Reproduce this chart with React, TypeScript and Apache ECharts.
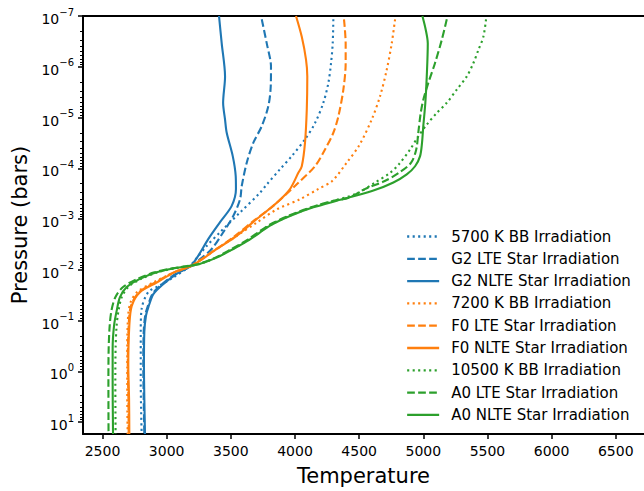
import React, { useEffect, useRef } from 'react';
import * as echarts from 'echarts';

const FONT = 'DejaVu Sans';
const BLUE = '#1f77b4';
const ORANGE = '#ff7f0e';
const GREEN = '#2ca02c';

// Temperature (K) and log10(pressure / bar) for each profile
const g2BbT = [4299, 4294, 4281, 4260, 4221, 4156, 4078, 3975, 3883, 3780, 3728, 3572, 3416, 3312, 3208, 3180, 3052, 2945, 2857, 2805, 2798, 2798, 2805];
const g2BbLogP = [-6.935, -6.46, -6.07, -5.68, -5.29, -4.89, -4.57, -4.24, -3.98, -3.68, -3.52, -3.13, -2.74, -2.47, -2.15, -2.07, -1.85, -1.69, -1.56, -1.23, -0.78, 0.2, 1.235];

const g2LteT = [3741, 3780, 3813, 3811, 3792, 3741, 3675, 3624, 3585, 3572, 3519, 3441, 3351, 3255, 3190, 3070, 2952, 2888, 2850, 2833, 2821, 2818, 2821, 2826];
const g2LteLogP = [-6.935, -6.46, -6.0, -5.61, -5.22, -4.83, -4.5, -4.11, -3.65, -3.39, -3.06, -2.74, -2.41, -2.2, -2.07, -1.92, -1.69, -1.52, -1.26, -1.1, -0.78, -0.12, 0.54, 1.235];

const g2NlteT = [3408, 3429, 3455, 3440, 3455, 3468, 3515, 3538, 3540, 3507, 3416, 3325, 3247, 3185, 3078, 2961, 2896, 2857, 2839, 2826, 2823, 2826, 2831];
const g2NlteLogP = [-7, -6.46, -5.81, -5.29, -4.96, -4.7, -4.24, -3.85, -3.59, -3.26, -2.94, -2.61, -2.28, -2.07, -1.92, -1.69, -1.52, -1.26, -1.1, -0.78, -0.12, 0.54, 1.235];

const f0BbT = [4780, 4754, 4715, 4663, 4598, 4500, 4403, 4290, 4180, 4039, 3858, 3702, 3546, 3390, 3185, 3060, 2895, 2770, 2720, 2700, 2693, 2693, 2696];
const f0BbLogP = [-6.935, -6.46, -5.94, -5.42, -4.96, -4.45, -4.11, -3.75, -3.59, -3.39, -3.19, -2.93, -2.67, -2.41, -2.07, -1.95, -1.75, -1.56, -1.37, -1.1, -0.5, 0.5, 1.235];

const f0LteT = [4382, 4395, 4395, 4377, 4338, 4299, 4234, 4156, 4020, 3831, 3675, 3519, 3364, 3185, 3055, 2912, 2785, 2722, 2704, 2697, 2702, 2704];
const f0LteLogP = [-6.935, -6.46, -6.07, -5.55, -5.02, -4.7, -4.37, -4.04, -3.7, -3.26, -2.96, -2.64, -2.37, -2.07, -1.95, -1.75, -1.56, -1.29, -0.9, -0.12, 0.54, 1.235];

const f0NlteT = [4008, 4053, 4086, 4096, 4092, 4078, 4053, 4026, 3961, 3858, 3702, 3546, 3390, 3260, 3185, 3060, 2922, 2792, 2728, 2709, 2701, 2707, 2709];
const f0NlteLogP = [-7, -6.59, -6.14, -5.81, -5.16, -4.5, -4.04, -3.91, -3.59, -3.32, -3.0, -2.67, -2.41, -2.18, -2.07, -1.95, -1.75, -1.56, -1.29, -0.9, -0.12, 0.54, 1.235];

const a0BbT = [5489, 5468, 5429, 5390, 5339, 5261, 5183, 5105, 5027, 4961, 4897, 4810, 4741, 4625, 4480, 4300, 4130, 3955, 3800, 3645, 3515, 3385, 3250, 3160, 3065, 2930, 2800, 2700, 2650, 2625, 2610, 2602, 2600, 2602];
const a0BbLogP = [-6.935, -6.59, -6.33, -6.07, -5.81, -5.55, -5.29, -5.09, -4.86, -4.63, -4.37, -4.08, -3.91, -3.72, -3.5, -3.36, -3.23, -3.06, -2.87, -2.6, -2.41, -2.24, -2.11, -2.07, -2.03, -1.95, -1.82, -1.66, -1.46, -1.2, -0.9, -0.45, 0.2, 1.235];

const a0LteT = [5183, 5144, 5091, 5039, 5000, 4980, 4961, 4945, 4905, 4810, 4700, 4540, 4420, 4300, 4125, 3945, 3790, 3635, 3505, 3380, 3240, 3150, 3045, 2905, 2770, 2660, 2600, 2570, 2556, 2548, 2546, 2547];
const a0LteLogP = [-6.935, -6.53, -6.07, -5.68, -5.35, -5.09, -4.7, -4.37, -4.11, -3.91, -3.75, -3.585, -3.42, -3.36, -3.23, -3.06, -2.87, -2.6, -2.41, -2.24, -2.11, -2.07, -2.03, -1.95, -1.82, -1.66, -1.46, -1.2, -0.9, -0.45, 0.2, 1.235];

const a0NlteT = [4993, 5019, 5035, 5027, 5016, 5000, 4990, 4975, 4936, 4871, 4767, 4600, 4325, 4143, 3961, 3806, 3650, 3519, 3390, 3250, 3160, 3060, 2922, 2792, 2689, 2636, 2611, 2590, 2579, 2579, 2582];
const a0NlteLogP = [-7, -6.73, -6.46, -5.81, -5.29, -4.83, -4.5, -4.24, -4.04, -3.88, -3.72, -3.55, -3.36, -3.23, -3.06, -2.87, -2.6, -2.41, -2.24, -2.11, -2.07, -2.03, -1.95, -1.82, -1.66, -1.46, -1.2, -0.9, -0.45, 0.2, 1.235];

const seriesNames = [
  '5700 K BB Irradiation',
  'G2 LTE Star Irradiation',
  'G2 NLTE Star Irradiation',
  '7200 K BB Irradiation',
  'F0 LTE Star Irradiation',
  'F0 NLTE Star Irradiation',
  '10500 K BB Irradiation',
  'A0 LTE Star Irradiation',
  'A0 NLTE Star Irradiation',
];

const xTickValues = [2500, 3000, 3500, 4000, 4500, 5000, 5500, 6000, 6500];
const yTickExponents = [-7, -6, -5, -4, -3, -2, -1, 0, 1];

const X_MIN = 2348;
const X_MAX = 6720;
const Y_MIN = -7;
const Y_MAX = 1.235;

const DOTTED = [2.1, 3.4];
const DASHED = [7.7, 3.3];

function zip(t: number[], p: number[]) {
  return t.map((v, i) => [v, p[i]]);
}

export default function App() {
  const ref = useRef<HTMLDivElement>(null);

  useEffect(() => {
    if (!ref.current) return;
    const chart = echarts.init(ref.current, null, { renderer: 'svg' });

    const minorTicks: number[] = [];
    for (let n = -7; n <= 1; n++) {
      for (let k = 2; k <= 9; k++) {
        const v = n + Math.log10(k);
        if (v < Y_MAX) minorTicks.push(v);
      }
    }

    const defs = [
      { t: g2BbT, p: g2BbLogP, c: BLUE, d: DOTTED },
      { t: g2LteT, p: g2LteLogP, c: BLUE, d: DASHED },
      { t: g2NlteT, p: g2NlteLogP, c: BLUE, d: 'solid' },
      { t: f0BbT, p: f0BbLogP, c: ORANGE, d: DOTTED },
      { t: f0LteT, p: f0LteLogP, c: ORANGE, d: DASHED },
      { t: f0NlteT, p: f0NlteLogP, c: ORANGE, d: 'solid' },
      { t: a0BbT, p: a0BbLogP, c: GREEN, d: DOTTED },
      { t: a0LteT, p: a0LteLogP, c: GREEN, d: DASHED },
      { t: a0NlteT, p: a0NlteLogP, c: GREEN, d: 'solid' },
    ];

    const series = defs.map((s, i) => ({
      name: seriesNames[i],
      type: 'line',
      data: zip(s.t, s.p),
      showSymbol: false,
      symbol: 'none',
      smooth: 0.3,
      color: s.c,
      lineStyle: { color: s.c, width: 2.1, type: s.d as any },
      xAxisIndex: 0,
      yAxisIndex: 0,
      z: 3,
    }));

    const option: any = {
      animation: false,
      backgroundColor: '#ffffff',
      textStyle: { fontFamily: FONT },
      grid: { left: 83, right: 0, top: 16, bottom: 56, containLabel: false },
      legend: {
        show: true,
        orient: 'vertical',
        left: 406,
        top: 229,
        itemWidth: 32,
        itemHeight: 15,
        itemGap: 7.3,
        padding: 0,
        data: seriesNames,
        itemStyle: { opacity: 0 },
        lineStyle: { width: 2.3 },
        textStyle: { fontFamily: FONT, fontSize: 15, color: '#000', padding: [0, 0, 0, 7] },
      },
      xAxis: [
        {
          type: 'value',
          min: X_MIN,
          max: X_MAX,
          position: 'bottom',
          name: 'Temperature',
          nameLocation: 'middle',
          nameGap: 31,
          nameTextStyle: { fontFamily: FONT, fontSize: 21, color: '#000' },
          axisLine: { show: true, onZero: false, lineStyle: { color: '#000', width: 2 } },
          axisTick: { show: true, customValues: xTickValues, length: 5, lineStyle: { color: '#000', width: 1.5 } },
          axisLabel: {
            show: true,
            customValues: xTickValues,
            margin: 10,
            fontFamily: FONT,
            fontSize: 14,
            color: '#000',
            formatter: (v: number) => String(Math.round(v)),
          },
          splitLine: { show: false },
        },
        {
          type: 'value',
          min: X_MIN,
          max: X_MAX,
          position: 'top',
          axisLine: { show: true, onZero: false, lineStyle: { color: '#000', width: 2 } },
          axisTick: { show: false },
          axisLabel: { show: false },
          splitLine: { show: false },
        },
      ],
      yAxis: [
        {
          type: 'value',
          min: Y_MIN,
          max: Y_MAX,
          inverse: true,
          position: 'left',
          name: 'Pressure (bars)',
          nameLocation: 'middle',
          nameGap: 53,
          nameTextStyle: { fontFamily: FONT, fontSize: 21, color: '#000' },
          axisLine: { show: true, onZero: false, lineStyle: { color: '#000', width: 2 } },
          axisTick: { show: true, customValues: yTickExponents, length: 5, lineStyle: { color: '#000', width: 1.5 } },
          axisLabel: {
            show: true,
            customValues: yTickExponents,
            margin: 9,
            formatter: (v: number) => {
              const n = Math.round(v);
              return '{b|10}{s|' + (n < 0 ? '\u2212' : '') + Math.abs(n) + '}';
            },
            rich: {
              b: { fontFamily: FONT, fontSize: 14, color: '#000', lineHeight: 20, verticalAlign: 'bottom' },
              s: { fontFamily: FONT, fontSize: 10, color: '#000', lineHeight: 10, verticalAlign: 'bottom', padding: [0, 0, 9, 0] },
            },
          },
          splitLine: { show: false },
        },
        {
          type: 'value',
          min: Y_MIN,
          max: Y_MAX,
          inverse: true,
          position: 'left',
          axisLine: { show: false, onZero: false },
          axisTick: { show: true, customValues: minorTicks, length: 3, lineStyle: { color: '#000', width: 1 } },
          axisLabel: { show: false },
          splitLine: { show: false },
        },
      ],
      series,
    };

    chart.setOption(option);
    return () => chart.dispose();
  }, []);

  return (
    <div
      ref={ref}
      style={{ position: 'absolute', left: 0, top: 0, width: 644, height: 491 }}
    />
  );
}
